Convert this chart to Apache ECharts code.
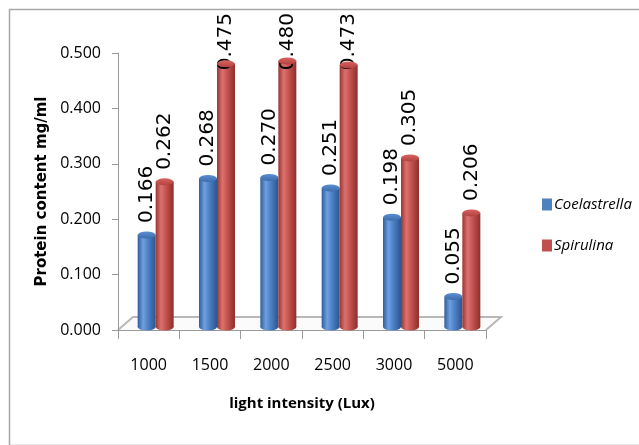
<!DOCTYPE html>
<html><head><meta charset="utf-8">
<script src="https://cdn.jsdelivr.net/npm/echarts@6/dist/echarts.min.js"></script>
<style>html,body{margin:0;padding:0;background:#fff}#c{width:639px;height:445px}</style>
</head><body><div id="c"></div>
<script>
const categories = ['1000','1500','2000','2500','3000','5000'];
const coelastrella = [0.166,0.268,0.270,0.251,0.198,0.055];
const spirulina = [0.262,0.475,0.480,0.473,0.305,0.206];
const yTicks = {min:0, max:0.5, interval:0.1};

const F = '"Open Sans",sans-serif';
const BW = 18;
const LABEL_DIST = 12;
const blueBody = {type:'linear',x:0,y:0,x2:1,y2:0,colorStops:[{offset:0,color:'#2f5d9c'},{offset:0.3,color:'#6f9fe0'},{offset:0.55,color:'#4f83c8'},{offset:1,color:'#2a558f'}]};
const redBody = {type:'linear',x:0,y:0,x2:1,y2:0,colorStops:[{offset:0,color:'#9a3532'},{offset:0.3,color:'#dc726e'},{offset:0.6,color:'#c0504d'},{offset:1,color:'#8e2e2b'}]};
const blueCap = {type:'linear',x:0,y:0,x2:0,y2:1,colorStops:[{offset:0,color:'#5b8ed3'},{offset:1,color:'#3d6cab'}]};
const redCap = {type:'linear',x:0,y:0,x2:0,y2:1,colorStops:[{offset:0,color:'#d8625e'},{offset:1,color:'#b2423f'}]};

const chart = echarts.init(document.getElementById('c'));
const lbl = {show:true, position:'top', rotate:90, align:'left', verticalAlign:'middle', distance:LABEL_DIST,
  fontFamily:'"DejaVu Sans",sans-serif', fontSize:20, color:'#000', formatter:p=>p.value.toFixed(3)};

// decorative chart border (floor is added after layout)
chart.setOption({
  animation:false,
  backgroundColor:'#fff',
  grid:[
    {left:118, right:153, top:53, bottom:115},
    {left:125, right:146, top:50, bottom:118}
  ],
  legend:{
    orient:'vertical', left:537, top:192, itemGap:26, itemWidth:10, itemHeight:12, icon:'rect',
    data:[{name:'Coelastrella', itemStyle:{color:'#4f81bd'}},{name:'Spirulina', itemStyle:{color:'#c0504d'}}],
    textStyle:{fontFamily:F, fontSize:15, fontStyle:'italic', color:'#000', padding:[0,0,0,-3]}
  },
  xAxis:[
    {type:'category', gridIndex:0, data:categories,
     axisLine:{lineStyle:{color:'#9a9a9a'}}, axisTick:{show:true, length:9, lineStyle:{color:'#9a9a9a'}},
     axisLabel:{fontFamily:F, fontSize:16, color:'#000', margin:27},
     name:'light intensity (Lux)', nameLocation:'middle', nameGap:66,
     nameTextStyle:{fontFamily:F, fontSize:15, fontWeight:'bold', color:'#000'}},
    {type:'category', gridIndex:1, data:categories, show:false},
    {type:'category', gridIndex:1, data:categories, show:false}
  ],
  yAxis:[
    {type:'value', gridIndex:0, min:yTicks.min, max:yTicks.max, interval:yTicks.interval,
     axisLine:{show:true, lineStyle:{color:'#9a9a9a'}}, axisTick:{show:true, length:6, lineStyle:{color:'#9a9a9a'}},
     splitLine:{show:false},
     axisLabel:{fontFamily:F, fontSize:16, color:'#000', margin:17, formatter:v=>v.toFixed(3)},
     name:'Protein content mg/ml', nameLocation:'middle', nameGap:63,
     nameTextStyle:{fontFamily:'"DejaVu Sans",sans-serif', fontSize:15, fontWeight:'bold', color:'#000'}},
    {type:'value', gridIndex:1, min:yTicks.min, max:yTicks.max, show:false},
  ],
  labelLayout:function(p){
    const r = p.labelRect, b = p.rect;
    if(!r || !b) return;
    const len = r.height;                 // rotated label: its length is vertical
    const anchor = b.y - LABEL_DIST;      // default bottom of the label
    if(anchor - len < 13){ return {y: 13 + len}; }   // keep label inside the chart top
  },
  series:[
    {name:'Coelastrella', type:'bar', xAxisIndex:1, yAxisIndex:1, data:coelastrella, barWidth:BW, barGap:'0%',
     itemStyle:{color:blueBody}, label:lbl, z:2},
    {name:'Spirulina', type:'bar', xAxisIndex:1, yAxisIndex:1, data:spirulina, barWidth:BW, barGap:'0%',
     itemStyle:{color:redBody}, label:lbl, z:2},
    {name:'Coelastrella', type:'pictorialBar', xAxisIndex:1, yAxisIndex:1, data:coelastrella, barWidth:BW, barGap:'0%',
     symbol:'circle', symbolSize:[BW,7], symbolPosition:'end', symbolOffset:[0,'-50%'], itemStyle:{color:blueCap}, z:3, silent:true},
    {name:'Spirulina', type:'pictorialBar', xAxisIndex:1, yAxisIndex:1, data:spirulina, barWidth:BW, barGap:'0%',
     symbol:'circle', symbolSize:[BW,7], symbolPosition:'end', symbolOffset:[0,'-50%'], itemStyle:{color:redCap}, z:3, silent:true},
    {name:'Coelastrella', type:'pictorialBar', xAxisIndex:2, yAxisIndex:1, data:coelastrella, barWidth:BW, barGap:'0%',
     symbol:'circle', symbolSize:[BW,7], symbolPosition:'start', symbolOffset:[0,'50%'], itemStyle:{color:blueBody}, z:1, silent:true},
    {name:'Spirulina', type:'pictorialBar', xAxisIndex:2, yAxisIndex:1, data:spirulina, barWidth:BW, barGap:'0%',
     symbol:'circle', symbolSize:[BW,7], symbolPosition:'start', symbolOffset:[0,'50%'], itemStyle:{color:redBody}, z:1, silent:true}
  ]
});

const rect = chart.getModel().getComponent('grid',0).coordinateSystem.getRect();
const fx0 = rect.x, fx1 = rect.x + rect.width, fy = rect.y + rect.height, dx = 15, dy = -13;
chart.setOption({graphic:[
  {type:'rect', left:7, top:7, shape:{x:0,y:0,width:660,height:436}, style:{fill:null, stroke:'#a8a8a8', lineWidth:1.5}, z:-1},
  {type:'polyline', shape:{points:[[fx0,fy],[fx0+dx,fy+dy],[fx1+dx,fy+dy],[fx1,fy]]}, style:{fill:'#fbfbfb', stroke:'#b8b8b8', lineWidth:2}, z:0}
]});
</script></body></html>
